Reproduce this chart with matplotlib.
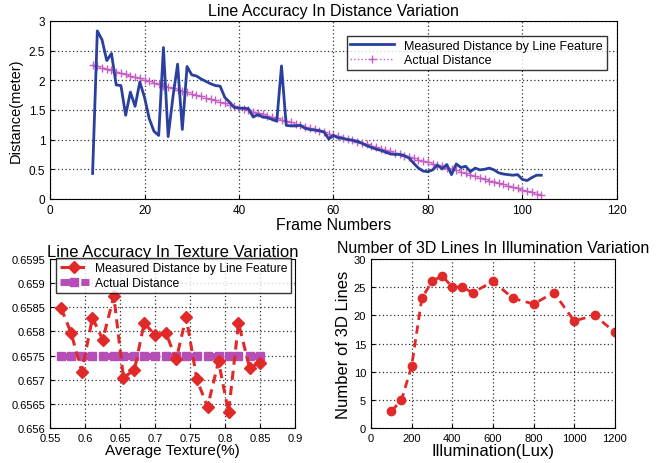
import matplotlib
matplotlib.use("Agg")
import matplotlib.pyplot as plt

plt.rcParams['font.family'] = ['Liberation Sans', 'DejaVu Sans']

# ---- Top chart data ----
frames = list(range(9, 105))
measured = [0.43, 2.83, 2.68, 2.33, 2.45, 1.92, 1.91, 1.41, 1.80, 1.56,
            1.97, 1.71, 1.35, 1.14, 1.07, 2.55, 1.05, 1.71, 2.27, 1.17,
            2.23, 2.09, 2.07, 2.02, 1.98, 1.94, 1.91, 1.90, 1.71, 1.63,
            1.54, 1.53, 1.53, 1.52, 1.38, 1.42, 1.38, 1.37, 1.34, 1.31,
            2.24, 1.24, 1.23, 1.23, 1.24, 1.19, 1.17, 1.16, 1.15, 1.13,
            1.01, 1.07, 1.03, 1.02, 1.00, 0.99, 0.97, 0.94, 0.90, 0.87,
            0.84, 0.82, 0.79, 0.76, 0.75, 0.75, 0.73, 0.69, 0.60, 0.52,
            0.47, 0.46, 0.49, 0.57, 0.51, 0.58, 0.41, 0.59, 0.53, 0.55,
            0.46, 0.52, 0.49, 0.50, 0.52, 0.49, 0.44, 0.42, 0.41, 0.40,
            0.41, 0.33, 0.31, 0.36, 0.40, 0.40]
actual = [2.26, 2.24, 2.21, 2.19, 2.17, 2.14, 2.12, 2.10, 2.07, 2.05,
          2.03, 2.01, 1.98, 1.96, 1.94, 1.91, 1.89, 1.87, 1.84, 1.82,
          1.80, 1.77, 1.75, 1.73, 1.70, 1.68, 1.66, 1.63, 1.61, 1.59,
          1.57, 1.54, 1.52, 1.50, 1.47, 1.45, 1.43, 1.40, 1.38, 1.36,
          1.33, 1.31, 1.29, 1.26, 1.24, 1.22, 1.19, 1.17, 1.15, 1.13,
          1.10, 1.08, 1.06, 1.03, 1.01, 0.99, 0.96, 0.94, 0.92, 0.89,
          0.87, 0.85, 0.82, 0.80, 0.78, 0.75, 0.73, 0.71, 0.69, 0.66,
          0.64, 0.62, 0.59, 0.57, 0.55, 0.52, 0.50, 0.48, 0.45, 0.43,
          0.41, 0.38, 0.36, 0.34, 0.31, 0.29, 0.27, 0.25, 0.22, 0.20,
          0.18, 0.15, 0.13, 0.11, 0.08, 0.06]

# ---- Bottom-left data ----
texture = [0.5657, 0.580, 0.5952, 0.6105, 0.6252, 0.641, 0.6548, 0.6705,
           0.6843, 0.700, 0.7157, 0.730, 0.7443, 0.7595, 0.7748, 0.7905,
           0.8048, 0.819, 0.8348, 0.849]
tex_measured = [0.65848, 0.65797, 0.65717, 0.65828, 0.65783, 0.65873,
                0.65704, 0.65721, 0.65817, 0.65793, 0.65796, 0.65742,
                0.65830, 0.65701, 0.65644, 0.65738, 0.65633, 0.65817,
                0.65725, 0.65735]
tex_actual = [0.6575] * 20
tex_yticks = [0.656, 0.6565, 0.657, 0.6575, 0.658, 0.6585, 0.659, 0.6595]
tex_yticklabels = ['0.656', '0.6565', '0.657', '0.6575', '0.658', '0.6585', '0.659', '0.6595']

# ---- Bottom-right data ----
lux = [100, 150, 200, 250, 300, 350, 400, 450, 500, 600, 700, 800, 900, 1000, 1100, 1200]
lines3d = [3, 5, 11, 23, 26, 27, 25, 25, 24, 26, 23, 22, 24, 19, 20, 17]

fig = plt.figure(figsize=(6.59, 4.64), dpi=100)

grid_kw = dict(color='#333333', linestyle=(0, (1, 2)), linewidth=0.9)

# Top axes
ax1 = fig.add_axes([0.076, 0.569, 0.860, 0.384])
ax1.plot(frames, measured, color='#2a3f9e', linewidth=2.0, label='Measured Distance by Line Feature', zorder=3)
ax1.plot(frames, actual, color='#c45ec4', linestyle=':', linewidth=1.0, marker='+', markersize=6,
         markeredgewidth=1.0, label='Actual Distance', zorder=2)
ax1.set_xlim(0, 120)
ax1.set_ylim(0, 3)
ax1.set_xticks([0, 20, 40, 60, 80, 100, 120])
ax1.set_yticks([0, 0.5, 1, 1.5, 2, 2.5, 3])
ax1.set_yticklabels(['0', '0.5', '1', '1.5', '2', '2.5', '3'])
ax1.grid(True, **grid_kw)
ax1.set_title('Line Accuracy In Distance Variation', fontsize=11.5, pad=4)
ax1.set_xlabel('Frame Numbers', fontsize=11.5, labelpad=1)
ax1.set_ylabel('Distance(meter)', fontsize=10.5, labelpad=4)
ax1.tick_params(labelsize=8.5, direction='in', length=3)
leg1 = ax1.legend(loc='upper right', fontsize=9, frameon=True, fancybox=False,
                  edgecolor='black', borderpad=0.3, handlelength=3.5, labelspacing=0.2,
                  bbox_to_anchor=(0.993, 0.95))
leg1.get_frame().set_linewidth(1.0)

# Bottom-left axes
ax2 = fig.add_axes([0.076, 0.075, 0.372, 0.365])
ax2.plot(texture, tex_actual, color='#b54fb5', linestyle=(0, (2, 1)), linewidth=5, marker='s',
         markersize=6, label='Actual Distance', zorder=2)
ax2.plot(texture, tex_measured, color='#e02a2a', linestyle=(0, (3, 2)), linewidth=2.2, marker='D',
         markersize=6, label='Measured Distance by Line Feature', zorder=3)
ax2.set_xlim(0.55, 0.9)
ax2.set_ylim(0.656, 0.6595)
ax2.set_xticks([0.55, 0.6, 0.65, 0.7, 0.75, 0.8, 0.85, 0.9])
ax2.set_xticklabels(['0.55', '0.6', '0.65', '0.7', '0.75', '0.8', '0.85', '0.9'])
ax2.set_yticks(tex_yticks)
ax2.set_yticklabels(tex_yticklabels)
ax2.grid(True, **grid_kw)
ax2.set_title('Line Accuracy In Texture Variation', fontsize=12, pad=1)
ax2.set_xlabel('Average Texture(%)', fontsize=11, labelpad=0)
ax2.tick_params(labelsize=8, direction='in', length=3)
h, l = ax2.get_legend_handles_labels()
leg2 = ax2.legend([h[1], h[0]], [l[1], l[0]], loc='upper left', fontsize=8.7, frameon=True,
                  fancybox=False, edgecolor='black', borderpad=0.3, handlelength=2.4,
                  handletextpad=0.5, labelspacing=0.3, bbox_to_anchor=(0.0, 1.04))
leg2.get_frame().set_linewidth(1.0)

# Bottom-right axes
ax3 = fig.add_axes([0.563, 0.075, 0.370, 0.365])
ax3.plot(lux, lines3d, color='#e02a2a', linestyle=(0, (3, 2)), linewidth=2.0, marker='o',
         markersize=6)
ax3.set_xlim(0, 1200)
ax3.set_ylim(0, 30)
ax3.set_xticks([0, 200, 400, 600, 800, 1000, 1200])
ax3.set_yticks([0, 5, 10, 15, 20, 25, 30])
ax3.grid(True, **grid_kw)
ax3.set_title('Number of 3D Lines In Illumination Variation', fontsize=11.5, pad=5)
ax3.set_xlabel('Illumination(Lux)', fontsize=12, labelpad=0)
ax3.set_ylabel('Number of 3D Lines', fontsize=12, labelpad=2)
ax3.tick_params(labelsize=8, direction='in', length=3)

fig.savefig('out.png', dpi=100)
